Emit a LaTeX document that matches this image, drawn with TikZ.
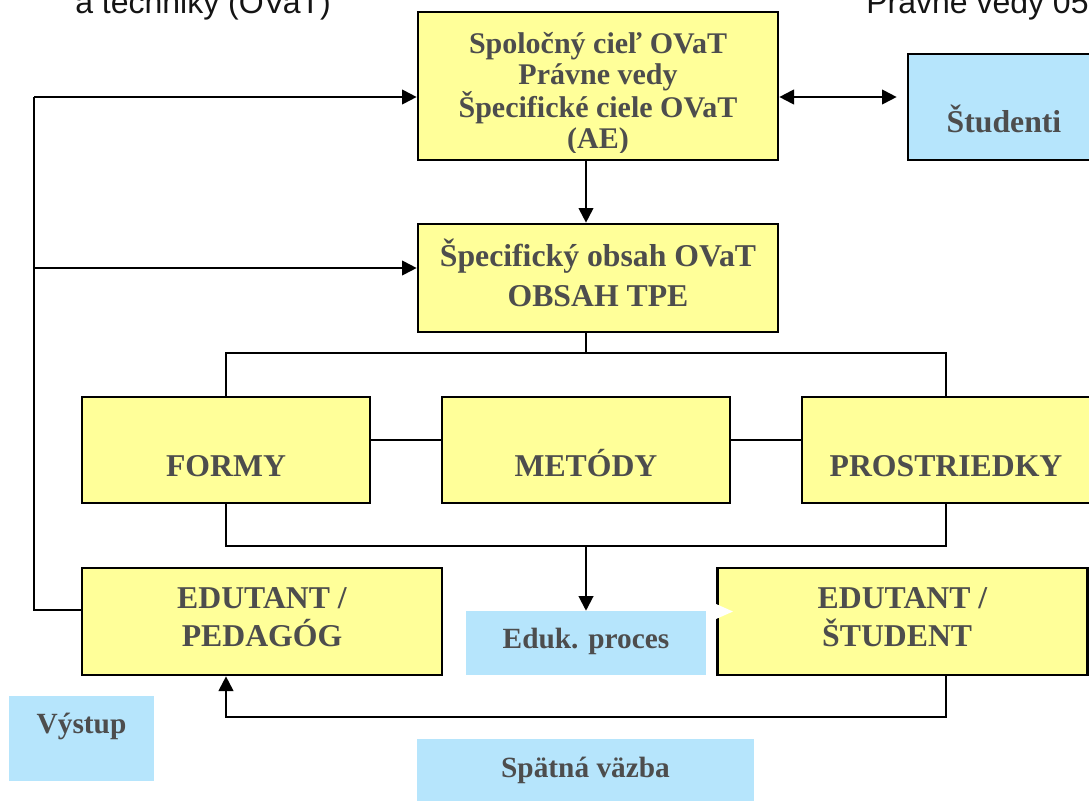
\documentclass[tikz,border=0pt]{standalone}
\usepackage{fontspec}
\setmainfont{Liberation Serif}
\newfontfamily\hdrfont{Liberation Sans}
\usetikzlibrary{arrows.meta}
\definecolor{boxyellow}{RGB}{255,255,153}
\definecolor{boxblue}{RGB}{182,229,252}
\definecolor{txtgray}{RGB}{77,77,77}
\definecolor{hdrcol}{RGB}{20,20,20}
\begin{document}
\begin{tikzpicture}[x=0.75pt,y=-0.75pt,
  ybox/.style={draw=black, line width=2pt, fill=boxyellow, inner sep=0pt, text=txtgray,
    font=\fontsize{23.8}{28.5}\selectfont\bfseries, align=center},
  bbox/.style={fill=boxblue, inner sep=0pt, text=txtgray, font=\fontsize{22}{26}\selectfont\bfseries},
  hdr/.style={font=\hdrfont\fontsize{24}{28}\selectfont, text=hdrcol, anchor=base west, inner sep=0pt},
  conn/.style={line width=1.5pt, draw=black},
  tip/.tip={Triangle[length=11pt,width=11pt]},
  arr/.style={conn, -tip},
]
\useasboundingbox (0,0) rectangle (1089,800);

% header texts
\node[hdr] (h1) at (75,13) {a techniky (OVaT)};
\node[hdr] (h2) at (866,13) {Právne vedy 05};

% top box
\node[ybox, minimum width=270pt, minimum height=111pt] (b1) at (598,86) {};
\begin{scope}
  \clip (419,13) rectangle (777,152);
  \node[text=txtgray, font=\fontsize{22.5}{23}\selectfont\bfseries, align=center,
        anchor=north, inner sep=0pt] (b1t) at (598,32)
        {Spoločný cieľ OVaT\\Právne vedy\\Špecifické ciele OVaT\\(AE)};
\end{scope}

% students
\node[bbox, draw=black, line width=2pt, font=\fontsize{23.8}{28}\selectfont\bfseries,
      minimum width=144pt, minimum height=79.5pt, text height=37.5pt, text depth=0pt]
      (stud) at (1004,107) {Študenti};

% second box
\node[ybox, minimum width=270pt, minimum height=81pt] (b2) at (598,278)
  {Špecifický obsah OVaT\\[1.5pt]OBSAH TPE\rule[-8pt]{0pt}{8pt}};

% forms / methods / means
\node[ybox, minimum width=216pt, minimum height=79.5pt, text height=39pt, text depth=0pt]
  (formy) at (226,450) {FORMY};
\node[ybox, minimum width=216pt, minimum height=79.5pt, text height=39pt, text depth=0pt]
  (metody) at (586,450) {METÓDY};
\node[ybox, minimum width=216pt, minimum height=79.5pt, text height=39pt, text depth=0pt]
  (prost) at (946,450) {PROSTRIEDKY};

% bottom row
\node[ybox, minimum width=270pt, minimum height=80.25pt] (ped) at (262,621.5)
  {EDUTANT /\\PEDAGÓG\rule[-7pt]{0pt}{7pt}};
\node[ybox, minimum width=277.5pt, minimum height=80.25pt] (stu) at (902.5,621.5)
  {EDUTANT /\\ŠTUDENT\rule[-7pt]{0pt}{7pt}\hspace*{8pt}};
\fill[white] (716,604) -- (733,611.5) -- (716,619) -- cycle;

\node[bbox, minimum width=180pt, minimum height=48pt, text height=7.5pt, text depth=0pt]
  (eduk) at (586,643) {Eduk. proces};
\node[bbox, minimum width=108.75pt, minimum height=63.75pt, text height=0pt, text depth=8.25pt]
  (vystup) at (81.5,738.5) {Výstup};
\node[bbox, minimum width=252.75pt, minimum height=49.5pt, text height=7.5pt, text depth=0pt]
  (spatna) at (585.5,772) {Spätná väzba};

% connectors
\coordinate (l1) at (34,97);
\coordinate (l2) at (34,268);
\coordinate (l3) at (34,610);
\coordinate (cx) at (586,0);
\draw[conn] (l1) -- (l3) -- (l3 -| ped.west);
\draw[arr] (l1) -- (l1 -| b1.west);
\draw[arr] (l2) -- (l2 -| b2.west);
\draw[conn, tip-tip, shorten >=7.5pt] (l1 -| b1.east) -- (l1 -| stud.west);

\draw[arr] (cx |- b1.south) -- (cx |- b2.north);
\coordinate (j1) at (586,353);
\draw[conn] (cx |- b2.south) -- (j1);
\draw[conn] (formy.north) |- (j1) -| (prost.north);
\coordinate (c440) at (0,440);
\draw[conn] (formy.east |- c440) -- (metody.west |- c440);
\draw[conn] (metody.east |- c440) -- (prost.west |- c440);
\coordinate (j2) at (586,546);
\draw[conn] (formy.south) |- (j2) -| (prost.south);
\draw[arr] (j2) -- (eduk.north);
\coordinate (f1) at (946,717);
\coordinate (f2) at (226,717);
\draw[arr] (f1 |- stu.south) -- (f1) -- (f2) -- (f2 |- ped.south);
\end{tikzpicture}
\end{document}
